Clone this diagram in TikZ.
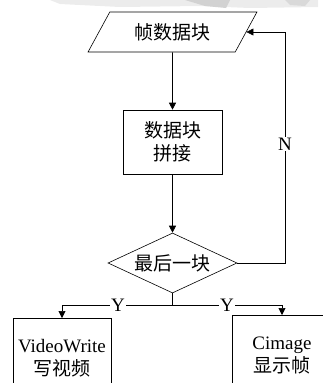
\documentclass[tikz,border=0pt]{standalone}
\usepackage{fontspec}
\setmainfont{Liberation Serif}
\newfontfamily\cjk{Noto Sans CJK SC}
\usetikzlibrary{shapes.geometric,arrows.meta}

\tikzset{
	flowtext/.style={font=\fontsize{19}{23}\selectfont, align=center},
	iobox/.style={flowtext, draw, trapezium, trapezium stretches=true,
		trapezium left angle=53.13, trapezium right angle=126.87,
		minimum width=169, minimum height=40, inner sep=0},
	procbox/.style={flowtext, draw, rectangle, inner sep=0},
	testbox/.style={flowtext, draw, diamond, aspect=2.15,
		minimum width=129, minimum height=60, inner sep=0},
	flowline/.style={-{Triangle[length=7, width=7]}},
	branch/.style={flowtext, fill=white, inner sep=1}
}

\begin{document}
\begin{tikzpicture}[x=1pt, y=-1pt, line width=0.6pt]
		\useasboundingbox (0, 0) rectangle (323, 383);
		% smudge left at the top of the scan
		\fill[gray!15] (50, 0) -- (318, 0) -- (318, 7) -- (250, 8) -- (200, 6) -- (120, 7) -- (60, 4) -- cycle;
		\fill[gray!35] (185, 0) -- (230, 0) -- (226, 8) -- (205, 6) -- cycle;
		\fill[gray!30] (285, 0) -- (310, 0) -- (305, 6) -- (290, 5) -- cycle;

		\node[iobox] (frame) at (172.5, 32) {\cjk 帧数据块};
		\node[procbox, minimum width=99, minimum height=64] (join) at (172.5, 142) {\cjk 数据块\\ \cjk 拼接};
		\node[testbox] (last) at (172.5, 263) {\cjk 最后一块};
		\node[procbox, minimum width=98, minimum height=80, anchor=north] (write) at (62, 318) {VideoWrite\\ \cjk 写视频};
		\node[procbox, minimum width=100, minimum height=80, anchor=north] (show) at (282, 315) {Cimage\\ \cjk 显示帧};

		\coordinate (split) at (172.5, 305);
		\coordinate (loop) at (285, 263);

		\draw[flowline] (frame) -- (join);
		\draw[flowline] (join) -- (last);
		\draw[flowline] (last.east) -- (loop) -- (loop |- frame.east) -- (frame.east);
		\node[branch] (no) at (285, 144) {N};
		\draw (last.south) -- (split);
		\draw[flowline] (split) -| (write.north);
		\draw[flowline] (split) -| (show.north);
		\node[branch] (yes1) at (118, 305) {Y};
		\node[branch] (yes2) at (227, 305) {Y};
	\end{tikzpicture}
\end{document}
